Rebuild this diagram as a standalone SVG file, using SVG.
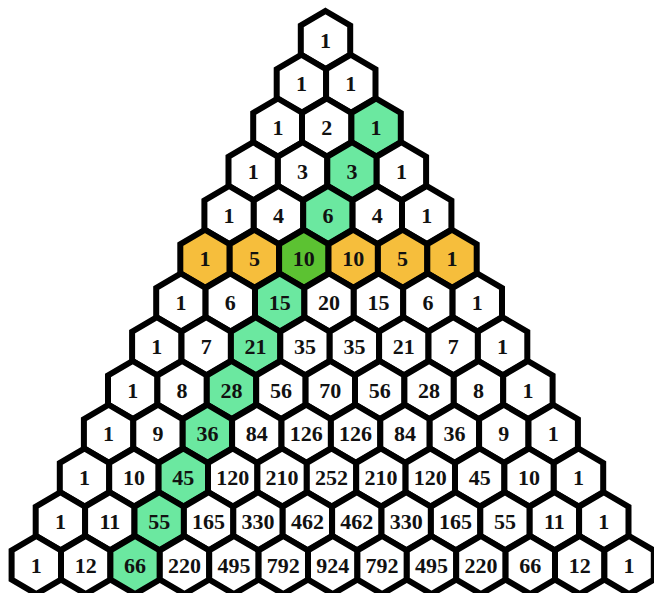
<svg xmlns="http://www.w3.org/2000/svg" xmlns:xlink="http://www.w3.org/1999/xlink" width="654" height="593" viewBox="0 0 654 593">
<style>
.h{stroke:#000;stroke-width:6;stroke-linejoin:miter}
.w{fill:#fff}.g{fill:#6BE8A0}.o{fill:#F6BE3C}.d{fill:#5CC232}
text{font-family:"Liberation Serif","DejaVu Serif","Times New Roman",serif;font-size:22px;font-weight:bold;text-anchor:middle;fill:#111}
</style>
<defs><polygon id="hex" points="0,-29 24.7,-14.6 24.7,14.6 0,29 -24.7,14.6 -24.7,-14.6"/></defs>
<rect width="654" height="593" fill="#fff"/>
<g id="connectors"/>
<g id="n0-0" transform="translate(325.5,40)"><use href="#hex" class="h w"/><text y="7.5">1</text></g>
<g id="n1-0" transform="translate(301.4,83.75)"><use href="#hex" class="h w"/><text y="7.5">1</text></g>
<g id="n1-1" transform="translate(350.8,83.75)"><use href="#hex" class="h w"/><text y="7.5">1</text></g>
<g id="n2-0" transform="translate(277.9,127.5)"><use href="#hex" class="h w"/><text y="7.5">1</text></g>
<g id="n2-1" transform="translate(326.7,127.5)"><use href="#hex" class="h w"/><text y="7.5">2</text></g>
<g id="n2-2" transform="translate(376.1,127.5)"><use href="#hex" class="h g"/><text y="7.5">1</text></g>
<g id="n3-0" transform="translate(253.2,171.25)"><use href="#hex" class="h w"/><text y="7.5">1</text></g>
<g id="n3-1" transform="translate(302.6,171.25)"><use href="#hex" class="h w"/><text y="7.5">3</text></g>
<g id="n3-2" transform="translate(352,171.25)"><use href="#hex" class="h g"/><text y="7.5">3</text></g>
<g id="n3-3" transform="translate(401.4,171.25)"><use href="#hex" class="h w"/><text y="7.5">1</text></g>
<g id="n4-0" transform="translate(229.1,215)"><use href="#hex" class="h w"/><text y="7.5">1</text></g>
<g id="n4-1" transform="translate(278.5,215)"><use href="#hex" class="h w"/><text y="7.5">4</text></g>
<g id="n4-2" transform="translate(327.9,215)"><use href="#hex" class="h g"/><text y="7.5">6</text></g>
<g id="n4-3" transform="translate(377.3,215)"><use href="#hex" class="h w"/><text y="7.5">4</text></g>
<g id="n4-4" transform="translate(426.7,215)"><use href="#hex" class="h w"/><text y="7.5">1</text></g>
<g id="n5-0" transform="translate(205,258.75)"><use href="#hex" class="h o"/><text y="7.5">1</text></g>
<g id="n5-1" transform="translate(254.4,258.75)"><use href="#hex" class="h o"/><text y="7.5">5</text></g>
<g id="n5-2" transform="translate(303.8,258.75)"><use href="#hex" class="h d"/><text y="7.5">10</text></g>
<g id="n5-3" transform="translate(353.2,258.75)"><use href="#hex" class="h o"/><text y="7.5">10</text></g>
<g id="n5-4" transform="translate(402.6,258.75)"><use href="#hex" class="h o"/><text y="7.5">5</text></g>
<g id="n5-5" transform="translate(452,258.75)"><use href="#hex" class="h o"/><text y="7.5">1</text></g>
<g id="n6-0" transform="translate(180.9,302.5)"><use href="#hex" class="h w"/><text y="7.5">1</text></g>
<g id="n6-1" transform="translate(230.3,302.5)"><use href="#hex" class="h w"/><text y="7.5">6</text></g>
<g id="n6-2" transform="translate(279.7,302.5)"><use href="#hex" class="h g"/><text y="7.5">15</text></g>
<g id="n6-3" transform="translate(329.1,302.5)"><use href="#hex" class="h w"/><text y="7.5">20</text></g>
<g id="n6-4" transform="translate(378.5,302.5)"><use href="#hex" class="h w"/><text y="7.5">15</text></g>
<g id="n6-5" transform="translate(427.9,302.5)"><use href="#hex" class="h w"/><text y="7.5">6</text></g>
<g id="n6-6" transform="translate(477.3,302.5)"><use href="#hex" class="h w"/><text y="7.5">1</text></g>
<g id="n7-0" transform="translate(156.8,346.25)"><use href="#hex" class="h w"/><text y="7.5">1</text></g>
<g id="n7-1" transform="translate(206.2,346.25)"><use href="#hex" class="h w"/><text y="7.5">7</text></g>
<g id="n7-2" transform="translate(255.6,346.25)"><use href="#hex" class="h g"/><text y="7.5">21</text></g>
<g id="n7-3" transform="translate(305,346.25)"><use href="#hex" class="h w"/><text y="7.5">35</text></g>
<g id="n7-4" transform="translate(354.4,346.25)"><use href="#hex" class="h w"/><text y="7.5">35</text></g>
<g id="n7-5" transform="translate(403.8,346.25)"><use href="#hex" class="h w"/><text y="7.5">21</text></g>
<g id="n7-6" transform="translate(453.2,346.25)"><use href="#hex" class="h w"/><text y="7.5">7</text></g>
<g id="n7-7" transform="translate(502.6,346.25)"><use href="#hex" class="h w"/><text y="7.5">1</text></g>
<g id="n8-0" transform="translate(132.7,390)"><use href="#hex" class="h w"/><text y="7.5">1</text></g>
<g id="n8-1" transform="translate(182.1,390)"><use href="#hex" class="h w"/><text y="7.5">8</text></g>
<g id="n8-2" transform="translate(231.5,390)"><use href="#hex" class="h g"/><text y="7.5">28</text></g>
<g id="n8-3" transform="translate(280.9,390)"><use href="#hex" class="h w"/><text y="7.5">56</text></g>
<g id="n8-4" transform="translate(330.3,390)"><use href="#hex" class="h w"/><text y="7.5">70</text></g>
<g id="n8-5" transform="translate(379.7,390)"><use href="#hex" class="h w"/><text y="7.5">56</text></g>
<g id="n8-6" transform="translate(429.1,390)"><use href="#hex" class="h w"/><text y="7.5">28</text></g>
<g id="n8-7" transform="translate(478.5,390)"><use href="#hex" class="h w"/><text y="7.5">8</text></g>
<g id="n8-8" transform="translate(527.9,390)"><use href="#hex" class="h w"/><text y="7.5">1</text></g>
<g id="n9-0" transform="translate(108.6,433.75)"><use href="#hex" class="h w"/><text y="7.5">1</text></g>
<g id="n9-1" transform="translate(158,433.75)"><use href="#hex" class="h w"/><text y="7.5">9</text></g>
<g id="n9-2" transform="translate(207.4,433.75)"><use href="#hex" class="h g"/><text y="7.5">36</text></g>
<g id="n9-3" transform="translate(256.8,433.75)"><use href="#hex" class="h w"/><text y="7.5">84</text></g>
<g id="n9-4" transform="translate(306.2,433.75)"><use href="#hex" class="h w"/><text y="7.5">126</text></g>
<g id="n9-5" transform="translate(355.6,433.75)"><use href="#hex" class="h w"/><text y="7.5">126</text></g>
<g id="n9-6" transform="translate(405,433.75)"><use href="#hex" class="h w"/><text y="7.5">84</text></g>
<g id="n9-7" transform="translate(454.4,433.75)"><use href="#hex" class="h w"/><text y="7.5">36</text></g>
<g id="n9-8" transform="translate(503.8,433.75)"><use href="#hex" class="h w"/><text y="7.5">9</text></g>
<g id="n9-9" transform="translate(553.2,433.75)"><use href="#hex" class="h w"/><text y="7.5">1</text></g>
<g id="n10-0" transform="translate(84.5,477.5)"><use href="#hex" class="h w"/><text y="7.5">1</text></g>
<g id="n10-1" transform="translate(133.9,477.5)"><use href="#hex" class="h w"/><text y="7.5">10</text></g>
<g id="n10-2" transform="translate(183.3,477.5)"><use href="#hex" class="h g"/><text y="7.5">45</text></g>
<g id="n10-3" transform="translate(232.7,477.5)"><use href="#hex" class="h w"/><text y="7.5">120</text></g>
<g id="n10-4" transform="translate(282.1,477.5)"><use href="#hex" class="h w"/><text y="7.5">210</text></g>
<g id="n10-5" transform="translate(331.5,477.5)"><use href="#hex" class="h w"/><text y="7.5">252</text></g>
<g id="n10-6" transform="translate(380.9,477.5)"><use href="#hex" class="h w"/><text y="7.5">210</text></g>
<g id="n10-7" transform="translate(430.3,477.5)"><use href="#hex" class="h w"/><text y="7.5">120</text></g>
<g id="n10-8" transform="translate(479.7,477.5)"><use href="#hex" class="h w"/><text y="7.5">45</text></g>
<g id="n10-9" transform="translate(529.1,477.5)"><use href="#hex" class="h w"/><text y="7.5">10</text></g>
<g id="n10-10" transform="translate(578.5,477.5)"><use href="#hex" class="h w"/><text y="7.5">1</text></g>
<g id="n11-0" transform="translate(60.4,521.25)"><use href="#hex" class="h w"/><text y="7.5">1</text></g>
<g id="n11-1" transform="translate(109.8,521.25)"><use href="#hex" class="h w"/><text y="7.5">11</text></g>
<g id="n11-2" transform="translate(159.2,521.25)"><use href="#hex" class="h g"/><text y="7.5">55</text></g>
<g id="n11-3" transform="translate(208.6,521.25)"><use href="#hex" class="h w"/><text y="7.5">165</text></g>
<g id="n11-4" transform="translate(258,521.25)"><use href="#hex" class="h w"/><text y="7.5">330</text></g>
<g id="n11-5" transform="translate(307.4,521.25)"><use href="#hex" class="h w"/><text y="7.5">462</text></g>
<g id="n11-6" transform="translate(356.8,521.25)"><use href="#hex" class="h w"/><text y="7.5">462</text></g>
<g id="n11-7" transform="translate(406.2,521.25)"><use href="#hex" class="h w"/><text y="7.5">330</text></g>
<g id="n11-8" transform="translate(455.6,521.25)"><use href="#hex" class="h w"/><text y="7.5">165</text></g>
<g id="n11-9" transform="translate(505,521.25)"><use href="#hex" class="h w"/><text y="7.5">55</text></g>
<g id="n11-10" transform="translate(554.4,521.25)"><use href="#hex" class="h w"/><text y="7.5">11</text></g>
<g id="n11-11" transform="translate(603.8,521.25)"><use href="#hex" class="h w"/><text y="7.5">1</text></g>
<g id="n12-0" transform="translate(36.3,565)"><use href="#hex" class="h w"/><text y="7.5">1</text></g>
<g id="n12-1" transform="translate(85.7,565)"><use href="#hex" class="h w"/><text y="7.5">12</text></g>
<g id="n12-2" transform="translate(135.1,565)"><use href="#hex" class="h g"/><text y="7.5">66</text></g>
<g id="n12-3" transform="translate(184.5,565)"><use href="#hex" class="h w"/><text y="7.5">220</text></g>
<g id="n12-4" transform="translate(233.9,565)"><use href="#hex" class="h w"/><text y="7.5">495</text></g>
<g id="n12-5" transform="translate(283.3,565)"><use href="#hex" class="h w"/><text y="7.5">792</text></g>
<g id="n12-6" transform="translate(332.7,565)"><use href="#hex" class="h w"/><text y="7.5">924</text></g>
<g id="n12-7" transform="translate(382.1,565)"><use href="#hex" class="h w"/><text y="7.5">792</text></g>
<g id="n12-8" transform="translate(431.5,565)"><use href="#hex" class="h w"/><text y="7.5">495</text></g>
<g id="n12-9" transform="translate(480.9,565)"><use href="#hex" class="h w"/><text y="7.5">220</text></g>
<g id="n12-10" transform="translate(530.3,565)"><use href="#hex" class="h w"/><text y="7.5">66</text></g>
<g id="n12-11" transform="translate(579.7,565)"><use href="#hex" class="h w"/><text y="7.5">12</text></g>
<g id="n12-12" transform="translate(629.1,565)"><use href="#hex" class="h w"/><text y="7.5">1</text></g>
</svg>
